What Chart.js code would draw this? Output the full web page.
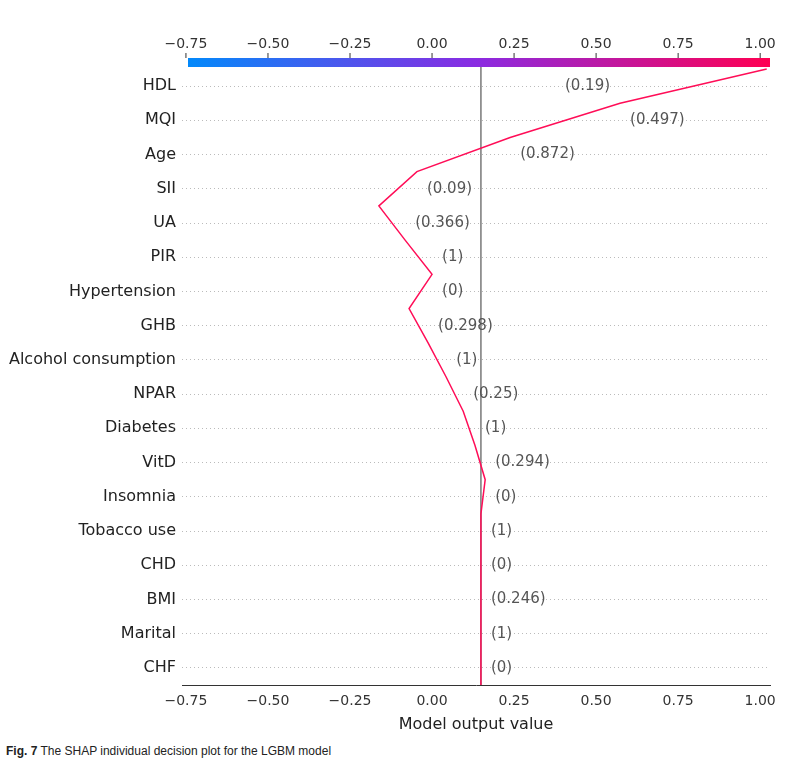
<!DOCTYPE html>
<html><head><meta charset="utf-8">
<script src="https://cdn.jsdelivr.net/npm/chart.js@4.4.1/dist/chart.umd.min.js"></script>
<style>
body{margin:0;background:#fff;}
#wrap{position:relative;width:797px;height:740px;}
#cap{position:absolute;left:6px;top:744px;font:12px "Liberation Sans",sans-serif;color:#222;}
</style></head><body>
<div id="wrap"><canvas id="c"></canvas></div>
<div id="cap"><b>Fig. 7</b> The SHAP individual decision plot for the LGBM model</div>
<script>
// features from top to bottom
const features = ["HDL","MQI","Age","SII","UA","PIR","Hypertension","GHB","Alcohol consumption",
  "NPAR","Diabetes","VitD","Insomnia","Tobacco use","CHD","BMI","Marital","CHF"];
const featureValues = ["(0.19)","(0.497)","(0.872)","(0.09)","(0.366)","(1)","(0)","(0.298)","(1)",
  "(0.25)","(1)","(0.294)","(0)","(1)","(0)","(0.246)","(1)","(0)"];
// cumulative model output at each row boundary, bottom (base value) to top
const baseValue = 0.149;
const cumOutput = [0.149,0.149,0.149,0.149,0.149,0.149,0.162,0.131,0.095,0.043,
  -0.012,-0.07,0.0,-0.082,-0.162,-0.046,0.238,0.573,1.02];
const xTicks = [-0.75,-0.5,-0.25,0,0.25,0.5,0.75,1.0];

const n = features.length;
const pts = cumOutput.map((v,i)=>({x:v,y:i}));
const font = '"DejaVu Sans", sans-serif';

const extras = {
  id:'extras',
  beforeDatasetsDraw(ch){
    const {ctx,chartArea:a,scales:{x}} = ch;
    const bx = x.getPixelForValue(baseValue);
    ctx.save();
    ctx.strokeStyle='#808080';ctx.lineWidth=1.6;
    ctx.beginPath();ctx.moveTo(bx,a.top-4);ctx.lineTo(bx,a.bottom);ctx.stroke();
    ctx.restore();
  },
  afterDatasetsDraw(ch){
    const {ctx,chartArea:a,scales:{x,y}} = ch;
    // colorbar
    const top=a.top-11,h=9;
    const g=ctx.createLinearGradient(x.left,0,x.right,0);
    g.addColorStop(0,'#008bfb');g.addColorStop(0.5,'#8a2be2');g.addColorStop(1,'#ff0052');
    ctx.save();
    ctx.fillStyle=g;ctx.fillRect(x.left+6,top,x.right-x.left-6,h);
    ctx.font='14px '+font;ctx.fillStyle='#333';ctx.textAlign='center';ctx.textBaseline='bottom';
    ctx.strokeStyle='#333';ctx.lineWidth=1;
    xTicks.forEach(t=>{const px=x.getPixelForValue(t);
      ctx.fillText(t.toFixed(2).replace('-','\u2212'),px,top-7);
      ctx.beginPath();ctx.moveTo(px,top);ctx.lineTo(px,top-5);ctx.stroke();});
    // feature value labels
    ctx.font='15px '+font;ctx.fillStyle='#555';ctx.textBaseline='middle';
    features.forEach((f,i)=>{
      const r=n-1-i;
      const lo=x.getPixelForValue(cumOutput[r]),hi=x.getPixelForValue(cumOutput[r+1]);
      const py=y.getPixelForValue(r+0.5);
      const txt=featureValues[i];
      const w=ctx.measureText(txt).width;
      let tx=Math.max(lo,hi)+10;
      if(tx+w>a.right){ctx.textAlign='right';tx=Math.min(lo,hi)-10;}else ctx.textAlign='left';
      ctx.fillText(txt,tx,py);
    });
    ctx.restore();
  }
};

new Chart(document.getElementById('c'),{
  type:'line',
  data:{datasets:[{data:pts,borderColor:'#ff0d57',borderWidth:1.5,pointRadius:0,tension:0,clip:false}]},
  options:{
    responsive:true,maintainAspectRatio:false,animation:false,
    layout:{padding:{top:69,right:27,bottom:2}},
    plugins:{legend:{display:false},tooltip:{enabled:false}},
    scales:{
      x:{type:'linear',min:-0.762,max:1.03,
        afterBuildTicks(s){s.ticks=xTicks.map(v=>({value:v}));},
        ticks:{font:{family:font,size:14},color:'#333',callback:v=>v.toFixed(2).replace('-','\u2212')},
        grid:{display:false,drawTicks:true,tickLength:5,tickColor:'#333'},
        border:{color:'#333'},
        title:{display:true,text:'Model output value',font:{family:font,size:16},color:'#222',padding:{top:2}}},
      y:{type:'linear',min:0,max:n,
        afterBuildTicks(s){s.ticks=features.map((f,i)=>({value:i+0.5}));},
        afterFit(s){s.width=182;},
        ticks:{font:{family:font,size:16},color:'#222',padding:6,
          callback:v=>features[n-1-Math.floor(v)]},
        grid:{color:'#bbb',lineWidth:1,drawTicks:false,tickBorderDash:[1,3]},
        border:{display:false,dash:[1,3]}}
    }
  },
  plugins:[extras]
});
</script></body></html>
